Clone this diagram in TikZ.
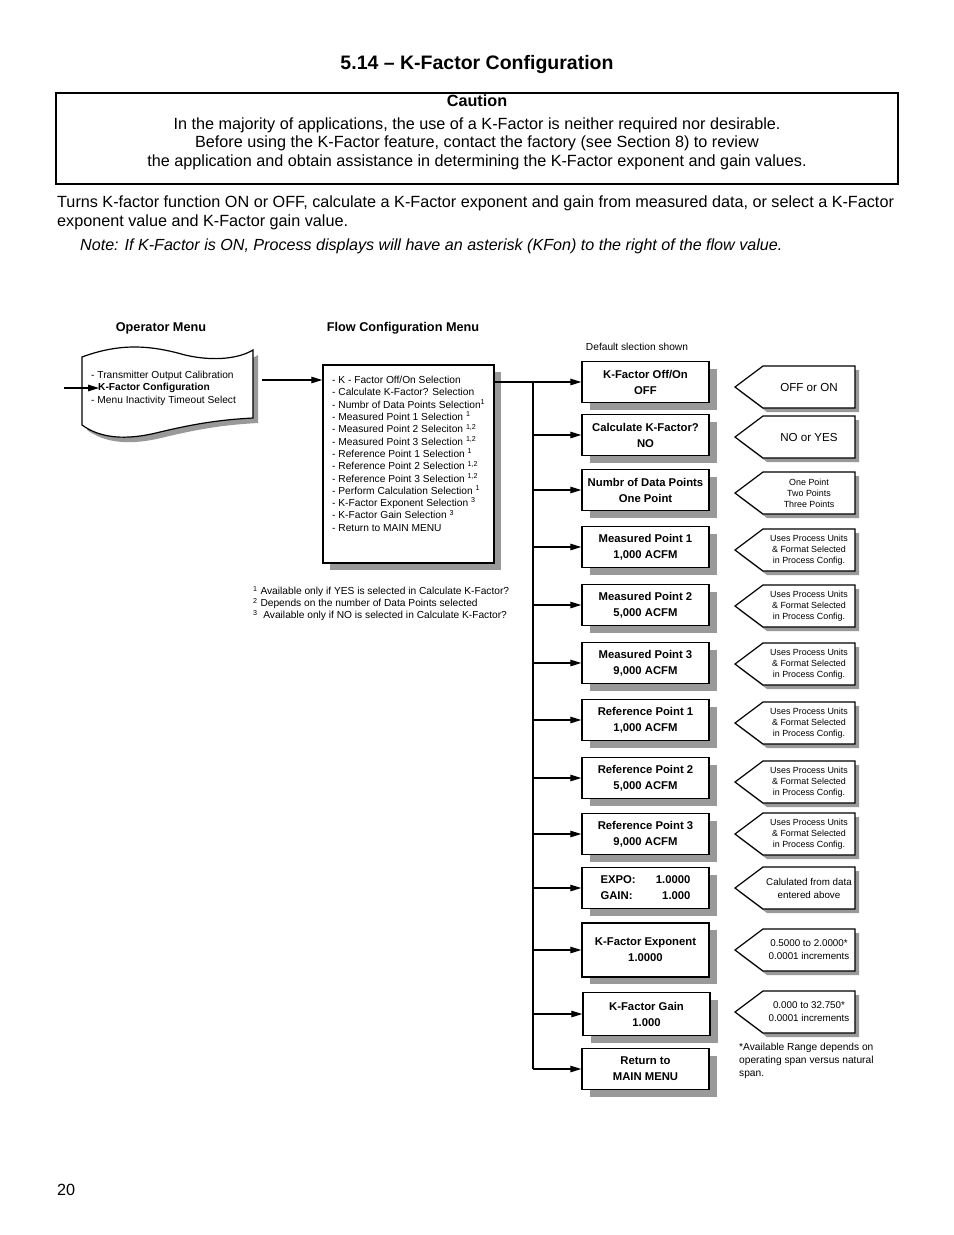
\documentclass[tikz,border=0pt]{standalone}
\usepackage{fontspec}
\setmainfont{Liberation Sans}
\usetikzlibrary{arrows.meta,shadows}
\definecolor{pc000000}{HTML}{000000}
\definecolor{pc999999}{HTML}{999999}
\definecolor{pcFFFFFF}{HTML}{FFFFFF}

\tikzset{
  menubox/.style={draw=pc000000, line width=1.4bp, fill=pcFFFFFF, minimum width=127bp,
    minimum height=41bp, inner sep=2bp, align=center,
    font=\bfseries\fontsize{11.3bp}{16bp}\selectfont,
    drop shadow={shadow xshift=8bp, shadow yshift=-7bp, fill=pc999999, opacity=1}},
  tagline/.style={draw=pc000000, line width=1.2bp, fill=pcFFFFFF},
  tagshadow/.style={fill=pc999999},
  tagbig/.style={inner sep=0, align=center, font=\fontsize{11.6bp}{14bp}\selectfont},
  tagmid/.style={inner sep=0, align=center, font=\fontsize{9.8bp}{13bp}\selectfont},
  tagsmall/.style={inner sep=0, align=center, font=\fontsize{8.9bp}{11bp}\selectfont},
  flowarrow/.style={line width=1.2bp, -{Triangle[length=11bp,width=6.5bp]}},
  listtext/.style={inner sep=0, align=left, font=\fontsize{10.2bp}{12.3bp}\selectfont},
  pagetext/.style={font=\fontsize{16.2bp}{19bp}\selectfont},
}

% choice tag: name, y of centre, text style, text
\newcommand{\choicetag}[4]{%
  \path[tagshadow] (767,#2-17) -- (859,#2-17) -- (859,#2+25) -- (767,#2+25) -- (739,#2+4) -- cycle;
  \path[tagline] (763,#2-21) -- (855,#2-21) -- (855,#2+21) -- (763,#2+21) -- (735,#2) -- cycle;
  \node[#3] (#1) at (809,#2) {#4};}

\begin{document}
\begin{tikzpicture}[x=1bp, y=-1bp]
\path[use as bounding box, fill=pcFFFFFF] (0,0) rectangle (954,1235);

% heading and caution
\node[anchor=base, font=\bfseries\fontsize{19.5bp}{23bp}\selectfont] (title) at (477,69) {5.14 – K-Factor Configuration};
\node[draw=pc000000, line width=1.3bp, minimum width=842bp, minimum height=91bp, inner sep=0] (caution) at (477,138.5) {};
\node[anchor=base, font=\bfseries\fontsize{16.2bp}{19bp}\selectfont] (cautionhead) at (477,106.5) {Caution};
\node[anchor=base, pagetext] (caution1) at (477,129) {In the majority of applications, the use of a K-Factor is neither required nor desirable.};
\node[anchor=base, pagetext] (caution2) at (477,147.5) {Before using the K-Factor feature, contact the factory (see Section 8) to review};
\node[anchor=base, pagetext] (caution3) at (477,166) {the application and obtain assistance in determining the K-Factor exponent and gain values.};
\node[anchor=base west, pagetext, inner sep=0] (intro1) at (57,207) {Turns K-factor function ON or OFF, calculate a K-Factor exponent and gain from measured data, or select a K-Factor};
\node[anchor=base west, pagetext, inner sep=0] (intro2) at (57,226) {exponent value and K-Factor gain value.};
\node[anchor=base west, font=\itshape\fontsize{16.1bp}{19bp}\selectfont, inner sep=0] (note) at (80,250) {Note: If K-Factor is ON, Process displays will have an asterisk (KFon) to the right of the flow value.};

% column headings
\node[font=\bfseries\fontsize{12.7bp}{15bp}\selectfont] (ophead) at (161,328) {Operator Menu};
\node[font=\bfseries\fontsize{12.7bp}{15bp}\selectfont] (flowhead) at (403,328) {Flow Configuration Menu};
\node[font=\fontsize{10.2bp}{12bp}\selectfont] (default) at (637,347) {Default slection shown};

% operator menu
\path[fill=pc999999] (87,362) .. controls (125,348) and (155,350) .. (190,360) .. controls (220,367) and (245,363) .. (258,355) -- (258,423) .. controls (220,425) and (195,430) .. (165,437) .. controls (130,446) and (105,443) .. (87,430) -- cycle;
\path[draw=pc000000, line width=1.2bp, fill=pcFFFFFF] (82,357) .. controls (120,343) and (150,345) .. (185,355) .. controls (215,362) and (240,358) .. (253,350) -- (253,418) .. controls (215,420) and (190,425) .. (160,432) .. controls (125,441) and (100,438) .. (82,425) -- cycle;
\node[listtext, anchor=north west] (optext) at (91,371) {- Transmitter Output Calibration\\\hspace{7bp}\textbf{K-Factor Configuration}\\- Menu Inactivity Timeout Select};
\coordinate (opin) at (64,388);
\coordinate (opkf) at (99,388);
\coordinate (opout) at (262,380);
\draw[flowarrow] (opin) -- (opkf);

% flow configuration menu
\node[draw=pc000000, line width=1.4bp, fill=pcFFFFFF, minimum width=171bp, minimum height=198bp, inner sep=0,
  drop shadow={shadow xshift=7bp, shadow yshift=-7bp, fill=pc999999, opacity=1}] (flow) at (408.5,464) {};
\node[listtext, anchor=north west] (flowtext) at (332,376) {- K - Factor Off/On Selection\\
- Calculate K-Factor? Selection\\
- Numbr of Data Points Selection\textsuperscript{1}\\
- Measured Point 1 Selection \textsuperscript{1}\\
- Measured Point 2 Seleciton \textsuperscript{1,2}\\
- Measured Point 3 Selection \textsuperscript{1,2}\\
- Reference Point 1 Selection \textsuperscript{1}\\
- Reference Point 2 Selection \textsuperscript{1,2}\\
- Reference Point 3 Selection \textsuperscript{1,2}\\
- Perform Calculation Selection \textsuperscript{1}\\
- K-Factor Exponent Selection \textsuperscript{3}\\
- K-Factor Gain Selection \textsuperscript{3}\\
- Return to MAIN MENU};
\draw[flowarrow] (opout) -- (flow.west |- opout);
\node[listtext, anchor=north west, font=\fontsize{10.2bp}{12bp}\selectfont] (notes) at (253,586) {\textsuperscript{1} Available only if YES is selected in Calculate K-Factor?\\
\textsuperscript{2} Depends on the number of Data Points selected\\
\textsuperscript{3}\ \ Available only if NO is selected in Calculate K-Factor?};

% selection boxes
\node[menubox] (kfon) at (645.5,382) {K-Factor Off/On\\OFF};
\node[menubox] (calc) at (645.5,435) {Calculate K-Factor?\\NO};
\node[menubox] (npts) at (645.5,490) {Numbr of Data Points\\One Point};
\node[menubox] (meas1) at (645.5,547) {Measured Point 1\\1,000 ACFM};
\node[menubox] (meas2) at (645.5,605) {Measured Point 2\\5,000 ACFM};
\node[menubox] (meas3) at (645.5,663) {Measured Point 3\\9,000 ACFM};
\node[menubox] (ref1) at (645.5,720) {Reference Point 1\\1,000 ACFM};
\node[menubox] (ref2) at (645.5,778) {Reference Point 2\\5,000 ACFM};
\node[menubox] (ref3) at (645.5,834) {Reference Point 3\\9,000 ACFM};
\node[menubox] (expgain) at (645.5,888) {\makebox[36bp][l]{EXPO:}\makebox[54bp][r]{1.0000}\\\makebox[36bp][l]{GAIN:}\makebox[54bp][r]{1.000}};
\node[menubox, minimum height=54bp] (kexp) at (645.5,950) {K-Factor Exponent\\1.0000};
\node[menubox, minimum height=43bp] (kgain) at (646.5,1014) {K-Factor Gain\\1.000};
\node[menubox] (ret) at (645.5,1069) {Return to\\MAIN MENU};

% connectors
\coordinate (trunk) at (533,382);
\draw[flowarrow] (flow.east |- kfon) -- (kfon);
\draw[line width=1.2bp] (trunk) -- (trunk |- ret);
\draw[flowarrow] (trunk |- calc) -- (calc);
\draw[flowarrow] (trunk |- npts) -- (npts);
\draw[flowarrow] (trunk |- meas1) -- (meas1);
\draw[flowarrow] (trunk |- meas2) -- (meas2);
\draw[flowarrow] (trunk |- meas3) -- (meas3);
\draw[flowarrow] (trunk |- ref1) -- (ref1);
\draw[flowarrow] (trunk |- ref2) -- (ref2);
\draw[flowarrow] (trunk |- ref3) -- (ref3);
\draw[flowarrow] (trunk |- expgain) -- (expgain);
\draw[flowarrow] (trunk |- kexp) -- (kexp);
\draw[flowarrow] (trunk |- kgain) -- (kgain);
\draw[flowarrow] (trunk |- ret) -- (ret);

% choices
\choicetag{offon}{387}{tagbig}{OFF or ON}
\choicetag{noyes}{437}{tagbig}{NO or YES}
\choicetag{points}{493}{tagsmall}{One Point\\Two Points\\Three Points}
\choicetag{units1}{550}{tagsmall}{Uses Process Units\\\& Format Selected\\in Process Config.}
\choicetag{units2}{606}{tagsmall}{Uses Process Units\\\& Format Selected\\in Process Config.}
\choicetag{units3}{664}{tagsmall}{Uses Process Units\\\& Format Selected\\in Process Config.}
\choicetag{units4}{723}{tagsmall}{Uses Process Units\\\& Format Selected\\in Process Config.}
\choicetag{units5}{782}{tagsmall}{Uses Process Units\\\& Format Selected\\in Process Config.}
\choicetag{units6}{834}{tagsmall}{Uses Process Units\\\& Format Selected\\in Process Config.}
\choicetag{calcd}{888}{tagmid}{Calulated from data\\entered above}
\choicetag{exprange}{950}{tagmid}{0.5000 to 2.0000*\\0.0001 increments}
\choicetag{gainrange}{1012}{tagmid}{0.000 to 32.750*\\0.0001 increments}
\node[anchor=north west, inner sep=0, align=left, font=\fontsize{10.2bp}{13bp}\selectfont] (rangenote) at (739,1043) {*Available Range depends on\\operating span versus natural\\span.};

% page number
\node[anchor=base west, inner sep=0, pagetext] (page) at (57,1195) {20};
\end{tikzpicture}
\end{document}
